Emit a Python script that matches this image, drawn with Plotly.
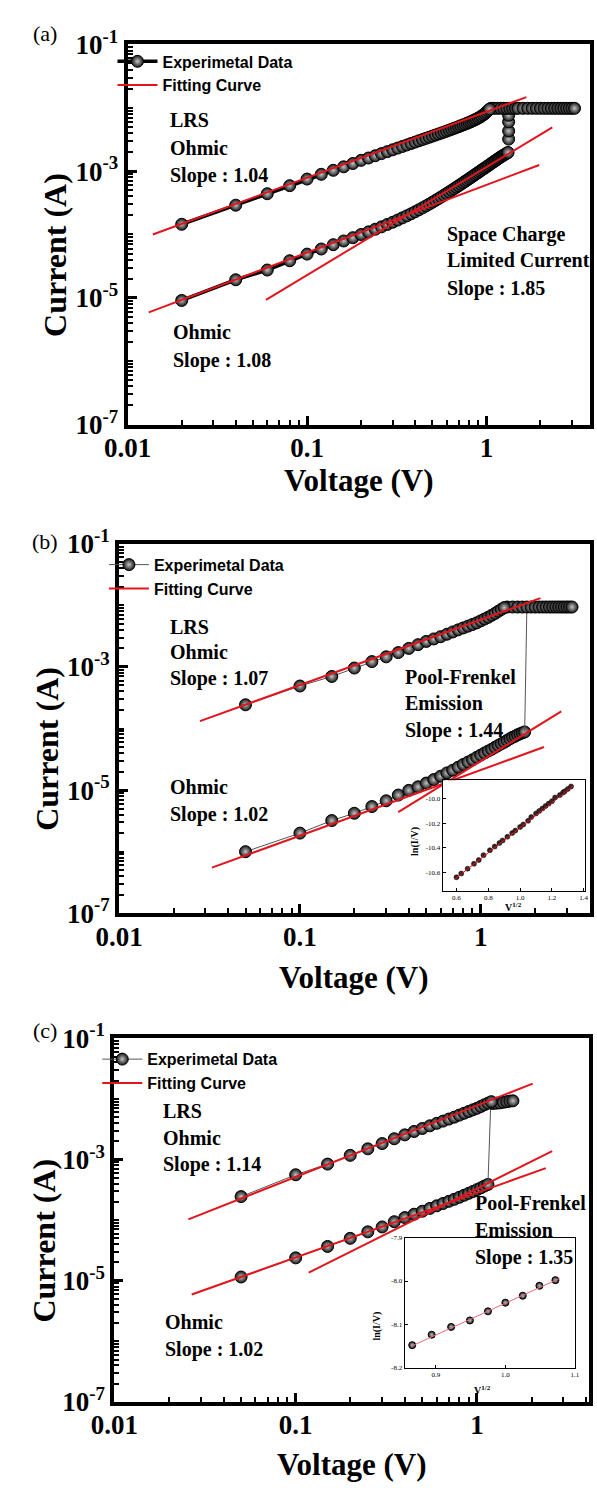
import plotly.graph_objects as go

W, H = 597, 1497
def px(x): return x / W
def py(y): return 1 - y / H

# ---------------- data: panel (a) ----------------
a_v_hrs = [0.02, 0.04, 0.06, 0.08, 0.10, 0.12, 0.14, 0.16, 0.18, 0.20,
           0.22, 0.24, 0.26, 0.28, 0.30, 0.32, 0.34, 0.36, 0.38, 0.40,
           0.42, 0.44, 0.46, 0.48, 0.50, 0.52, 0.54, 0.56, 0.58, 0.60,
           0.62, 0.64, 0.66, 0.68, 0.70, 0.72, 0.74, 0.76, 0.78, 0.80,
           0.82, 0.84, 0.86, 0.88, 0.90, 0.92, 0.94, 0.96, 0.98, 1.00,
           1.02, 1.04, 1.06, 1.08, 1.10, 1.12, 1.14, 1.16, 1.18, 1.20,
           1.22, 1.24, 1.26, 1.28, 1.30, 1.32]
a_i_hrs = [9.1e-6, 1.93e-5, 2.75e-5, 3.85e-5, 4.9e-5, 5.9e-5, 6.9e-5, 7.9e-5, 8.9e-5, 1.0e-4,
           1.1e-4, 1.21e-4, 1.32e-4, 1.44e-4, 1.56e-4, 1.69e-4, 1.83e-4, 1.97e-4, 2.12e-4, 2.28e-4,
           2.45e-4, 2.63e-4, 2.82e-4, 3.02e-4, 3.23e-4, 3.45e-4, 3.68e-4, 3.92e-4, 4.17e-4, 4.43e-4,
           4.7e-4, 4.98e-4, 5.27e-4, 5.57e-4, 5.88e-4, 6.2e-4, 6.53e-4, 6.87e-4, 7.22e-4, 7.58e-4,
           7.95e-4, 8.33e-4, 8.72e-4, 9.12e-4, 9.53e-4, 9.95e-4, 1.04e-3, 1.08e-3, 1.12e-3, 1.17e-3,
           1.21e-3, 1.26e-3, 1.31e-3, 1.36e-3, 1.41e-3, 1.46e-3, 1.51e-3, 1.56e-3, 1.62e-3, 1.67e-3,
           1.72e-3, 1.77e-3, 1.82e-3, 1.87e-3, 1.92e-3, 1.97e-3]
a_v_set = [1.33, 1.33, 1.33, 1.33]
a_i_set = [3.2e-3, 4.3e-3, 6.0e-3, 7.6e-3]
a_v_cc = [1.06, 1.1, 1.15, 1.2, 1.25, 1.3, 1.35, 1.4, 1.45, 1.5, 1.6, 1.7, 1.8,
          1.9, 2.0, 2.1, 2.2, 2.3, 2.4, 2.5, 2.6, 2.7, 2.8, 2.9, 3.0, 3.1]
a_i_cc = [0.0098, 0.0098, 0.0098, 0.0098, 0.0098, 0.0098, 0.0098, 0.0098, 0.0098,
          0.0098, 0.0098, 0.0098, 0.0098, 0.0098, 0.0098, 0.0098, 0.0098, 0.0098,
          0.0098, 0.0098, 0.0098, 0.0098, 0.0098, 0.0098, 0.0098, 0.0098]
a_v_lrs = [0.02, 0.04, 0.06, 0.08, 0.10, 0.12, 0.14, 0.16, 0.18, 0.20,
           0.22, 0.24, 0.26, 0.28, 0.30, 0.32, 0.34, 0.36, 0.38, 0.40,
           0.42, 0.44, 0.46, 0.48, 0.50, 0.52, 0.54, 0.56, 0.58, 0.60,
           0.62, 0.64, 0.66, 0.68, 0.70, 0.72, 0.74, 0.76, 0.78, 0.80,
           0.82, 0.84, 0.86, 0.88, 0.90, 0.92, 0.94, 0.96, 0.98, 1.00,
           1.02, 1.04]
a_i_lrs = [1.45e-4, 2.9e-4, 4.4e-4, 5.9e-4, 7.5e-4, 8.9e-4, 1.03e-3, 1.17e-3, 1.32e-3, 1.48e-3,
           1.61e-3, 1.75e-3, 1.89e-3, 2.03e-3, 2.17e-3, 2.31e-3, 2.45e-3, 2.59e-3, 2.73e-3, 2.87e-3,
           3.01e-3, 3.15e-3, 3.29e-3, 3.43e-3, 3.57e-3, 3.71e-3, 3.85e-3, 3.99e-3, 4.13e-3, 4.28e-3,
           4.43e-3, 4.58e-3, 4.73e-3, 4.88e-3, 5.04e-3, 5.2e-3, 5.36e-3, 5.52e-3, 5.69e-3, 5.86e-3,
           6.04e-3, 6.23e-3, 6.43e-3, 6.64e-3, 6.87e-3, 7.12e-3, 7.4e-3, 7.72e-3, 8.08e-3, 8.5e-3,
           9.0e-3, 9.5e-3]
a_fit_lrs_v = [0.0138, 1.67];  a_fit_lrs_i = [1.0e-4, 1.47e-2]
a_fit_ohm_v = [0.0131, 1.97];  a_fit_ohm_i = [5.9e-6, 1.25e-3]
a_fit_sclc_v = [0.059, 2.33];  a_fit_sclc_i = [9.3e-6, 4.9e-3]

# ---------------- data: panel (b) ----------------
b_v_hrs = [0.05, 0.10, 0.15, 0.20, 0.25, 0.30, 0.35, 0.40, 0.45, 0.50,
           0.55, 0.60, 0.65, 0.70, 0.75, 0.80, 0.85, 0.90, 0.95, 1.00,
           1.05, 1.10, 1.15, 1.20, 1.25, 1.30, 1.35, 1.40, 1.45, 1.50,
           1.55, 1.60, 1.65, 1.70, 1.75]
b_i_hrs = [1.0e-6, 2.0e-6, 3.2e-6, 4.2e-6, 5.4e-6, 6.7e-6, 8.3e-6, 9.9e-6, 1.13e-5, 1.3e-5,
           1.48e-5, 1.68e-5, 1.9e-5, 2.1e-5, 2.35e-5, 2.6e-5, 2.85e-5, 3.1e-5, 3.4e-5, 3.7e-5,
           4.0e-5, 4.3e-5, 4.6e-5, 4.95e-5, 5.3e-5, 5.65e-5, 6.0e-5, 6.4e-5, 6.8e-5, 7.2e-5,
           7.5e-5, 7.9e-5, 8.2e-5, 8.5e-5, 8.8e-5]
b_v_jump = [1.75, 1.80]
b_i_jump = [8.8e-5, 9.4e-3]
b_v_cc = [1.4, 1.5, 1.6, 1.7, 1.8, 1.9, 2.0, 2.1, 2.2, 2.3, 2.4, 2.5, 2.6, 2.7,
          2.8, 2.9, 3.0, 3.1, 3.2]
b_i_cc = [0.0094, 0.0094, 0.0094, 0.0094, 0.0094, 0.0094, 0.0094, 0.0094, 0.0094, 0.0094,
          0.0094, 0.0094, 0.0094, 0.0094, 0.0094, 0.0094, 0.0094, 0.0094, 0.0094]
b_v_lrs = [0.05, 0.10, 0.15, 0.20, 0.25, 0.30, 0.35, 0.40, 0.45, 0.50,
           0.55, 0.60, 0.65, 0.70, 0.75, 0.80, 0.85, 0.90, 0.95, 1.00,
           1.05, 1.10, 1.15, 1.20, 1.25, 1.30, 1.35]
b_i_lrs = [2.43e-4, 4.9e-4, 7.0e-4, 9.6e-4, 1.22e-3, 1.46e-3, 1.71e-3, 2.0e-3, 2.3e-3, 2.6e-3,
           2.85e-3, 3.1e-3, 3.4e-3, 3.7e-3, 4.0e-3, 4.3e-3, 4.6e-3, 4.9e-3, 5.2e-3, 5.6e-3,
           6.0e-3, 6.4e-3, 6.9e-3, 7.4e-3, 8.0e-3, 8.6e-3, 9.2e-3]
b_fit_lrs_v = [0.028, 2.14];  b_fit_lrs_i = [1.32e-4, 1.31e-2]
b_fit_ohm_v = [0.0326, 2.24]; b_fit_ohm_i = [5.5e-7, 5.0e-5]
b_fit_pf_v = [0.35, 2.79];    b_fit_pf_i = [4.4e-6, 1.9e-4]
# inset (b): ln(I/V) vs V^1/2
bi_x = [0.60, 0.63, 0.67, 0.71, 0.74, 0.77, 0.81, 0.84, 0.87, 0.89,
        0.92, 0.95, 0.97, 1.00, 1.02, 1.05, 1.07, 1.10, 1.12, 1.14,
        1.16, 1.18, 1.20, 1.22, 1.25, 1.27, 1.28, 1.30, 1.32]
bi_y = [-10.64, -10.61, -10.57, -10.53, -10.50, -10.46, -10.42, -10.39, -10.36, -10.34,
        -10.31, -10.28, -10.26, -10.23, -10.21, -10.18, -10.15, -10.12, -10.10, -10.08,
        -10.06, -10.04, -10.02, -9.99, -9.97, -9.95, -9.94, -9.92, -9.90]
bi_fit_x = [0.59, 1.335]
bi_fit_y = [-10.655, -9.895]
bi_xticks = [0.6, 0.8, 1.0, 1.2, 1.4]
bi_yticks = [-10.0, -10.2, -10.4, -10.6]

# ---------------- data: panel (c) ----------------
c_v_hrs = [0.05, 0.10, 0.15, 0.20, 0.25, 0.30, 0.35, 0.40, 0.45, 0.50,
           0.55, 0.60, 0.65, 0.70, 0.75, 0.80, 0.85, 0.90, 0.95, 1.00,
           1.05, 1.10, 1.15]
c_i_hrs = [1.15e-5, 2.38e-5, 3.67e-5, 5.0e-5, 6.4e-5, 7.7e-5, 9.4e-5, 1.1e-4, 1.25e-4, 1.4e-4,
           1.56e-4, 1.72e-4, 1.88e-4, 2.04e-4, 2.2e-4, 2.38e-4, 2.57e-4, 2.76e-4, 2.96e-4, 3.18e-4,
           3.4e-4, 3.65e-4, 3.87e-4]
c_v_jump = [1.15, 1.19]
c_i_jump = [3.87e-4, 7.2e-3]
c_v_cc = [1.22, 1.28, 1.34, 1.40, 1.46, 1.52, 1.58]
c_i_cc = [8.4e-3, 8.5e-3, 8.6e-3, 8.8e-3, 9.0e-3, 9.2e-3, 9.3e-3]
c_v_lrs = [0.05, 0.10, 0.15, 0.20, 0.25, 0.30, 0.35, 0.40, 0.45, 0.50,
           0.55, 0.60, 0.65, 0.70, 0.75, 0.80, 0.85, 0.90, 0.95, 1.00,
           1.05, 1.10, 1.15, 1.20]
c_i_lrs = [2.44e-4, 5.6e-4, 8.4e-4, 1.17e-3, 1.5e-3, 1.83e-3, 2.2e-3, 2.55e-3, 2.9e-3, 3.25e-3,
           3.6e-3, 3.95e-3, 4.3e-3, 4.65e-3, 5.0e-3, 5.4e-3, 5.8e-3, 6.2e-3, 6.6e-3, 7.0e-3,
           7.5e-3, 8.0e-3, 8.5e-3, 9.0e-3]
c_fit_lrs_v = [0.0256, 2.03]; c_fit_lrs_i = [1.03e-4, 1.79e-2]
c_fit_ohm_v = [0.0267, 2.4];  c_fit_ohm_i = [5.9e-6, 7.2e-4]
c_fit_pf_v = [0.118, 2.6];    c_fit_pf_i = [1.36e-5, 1.38e-3]
# inset (c)
ci_x = [0.866, 0.894, 0.922, 0.949, 0.975, 1.0, 1.025, 1.049, 1.072]
ci_y = [-8.148, -8.124, -8.106, -8.091, -8.070, -8.050, -8.034, -8.011, -7.998]
ci_fit_x = [0.864, 1.078]
ci_fit_y = [-8.151, -7.994]
ci_xticks = [0.9, 1.0, 1.1]
ci_yticks = [-7.9, -8.0, -8.1, -8.2]

# main axis ticks
x_tickvals = [0.01, 0.1, 1]
x_ticktext = ["0.01", "0.1", "1"]
y_tickvals = [1e-1, 1e-3, 1e-5, 1e-7]
y_ticktext = ["10<sup>-1</sup>", "10<sup>-3</sup>", "10<sup>-5</sup>", "10<sup>-7</sup>"]

RED = '#e3141c'
SERIF = 'Liberation Serif'
SANS = 'Liberation Sans'

def sphere(size):
    return dict(size=size, color='#161616', line=dict(color='black', width=1),
                gradient=dict(type='radial', color='#c4c4c4'))

fig = go.Figure()

def add_panel(ax, ay, leg, segs, fits, linecolor, linewidth, msize):
    first = True
    for (v, i, mode) in segs:
        fig.add_trace(go.Scatter(
            x=v, y=i, mode=mode, xaxis=ax, yaxis=ay,
            line=dict(color=linecolor, width=linewidth),
            marker=sphere(msize), name='Experimetal Data',
            showlegend=first and mode == 'lines+markers', legend=leg))
        if mode == 'lines+markers':
            first = False
    firstfit = True
    for (v, i) in fits:
        fig.add_trace(go.Scatter(
            x=v, y=i, mode='lines', xaxis=ax, yaxis=ay,
            line=dict(color=RED, width=2), name='Fitting Curve',
            showlegend=firstfit, legend=leg))
        firstfit = False

add_panel('x', 'y', 'legend',
          [(a_v_hrs, a_i_hrs, 'lines+markers'), (a_v_set, a_i_set, 'lines+markers'),
           (a_v_cc, a_i_cc, 'lines+markers'), (a_v_lrs, a_i_lrs, 'lines+markers')],
          [(a_fit_lrs_v, a_fit_lrs_i), (a_fit_ohm_v, a_fit_ohm_i), (a_fit_sclc_v, a_fit_sclc_i)],
          'black', 3.5, 12)
add_panel('x2', 'y2', 'legend2',
          [(b_v_hrs, b_i_hrs, 'lines+markers'), (b_v_jump, b_i_jump, 'lines'),
           (b_v_cc, b_i_cc, 'lines+markers'), (b_v_lrs, b_i_lrs, 'lines+markers')],
          [(b_fit_lrs_v, b_fit_lrs_i), (b_fit_ohm_v, b_fit_ohm_i), (b_fit_pf_v, b_fit_pf_i)],
          '#555555', 1, 12)
add_panel('x3', 'y3', 'legend3',
          [(c_v_hrs, c_i_hrs, 'lines+markers'), (c_v_jump, c_i_jump, 'lines'),
           (c_v_cc, c_i_cc, 'lines+markers'), (c_v_lrs, c_i_lrs, 'lines+markers')],
          [(c_fit_lrs_v, c_fit_lrs_i), (c_fit_ohm_v, c_fit_ohm_i), (c_fit_pf_v, c_fit_pf_i)],
          '#555555', 1, 12)

# insets
fig.add_trace(go.Scatter(x=bi_x, y=bi_y, mode='markers', xaxis='x4', yaxis='y4', showlegend=False,
                         marker=dict(size=5, color='#3b2424', line=dict(color='black', width=0.5))))
fig.add_trace(go.Scatter(x=bi_fit_x, y=bi_fit_y, mode='lines', xaxis='x4', yaxis='y4', showlegend=False,
                         line=dict(color=RED, width=1)))
fig.add_trace(go.Scatter(x=ci_x, y=ci_y, mode='markers', xaxis='x5', yaxis='y5', showlegend=False,
                         marker=sphere(7)))
fig.add_trace(go.Scatter(x=ci_fit_x, y=ci_fit_y, mode='lines', xaxis='x5', yaxis='y5', showlegend=False,
                         line=dict(color='#e06a78', width=1)))

MINOR = dict(ticks='inside', ticklen=5, tickwidth=2, tickcolor='black', dtick='D1')

def main_x(domain, rng, anchor):
    return dict(type='log', domain=domain, range=rng, anchor=anchor,
                showline=True, linecolor='black', linewidth=4, mirror=True,
                ticks='inside', ticklen=9, tickwidth=3, tickcolor='black',
                tickmode='array', tickvals=x_tickvals, ticktext=x_ticktext,
                ticklabelstandoff=-4,
                tickfont=dict(family=SERIF, size=27, color='black', weight='bold'),
                minor=MINOR, showgrid=False, zeroline=False)

def main_y(domain, anchor):
    return dict(type='log', domain=domain, range=[-7, -1], anchor=anchor,
                showline=True, linecolor='black', linewidth=4, mirror=True,
                ticks='inside', ticklen=9, tickwidth=3, tickcolor='black',
                tickmode='array', tickvals=y_tickvals, ticktext=y_ticktext,
                tickfont=dict(family=SERIF, size=27, color='black', weight='bold'),
                minor=dict(ticks='inside', ticklen=5, tickwidth=2, tickcolor='black',
                           dtick='D1'),
                showgrid=False, zeroline=False)

def inset_ax(domain, rng, anchor, tickvals, fmt):
    return dict(domain=domain, range=rng, anchor=anchor, showline=True, linecolor='black',
                linewidth=1, mirror=True, ticks='inside', ticklen=3, tickcolor='black',
                tickmode='array', tickvals=tickvals, ticktext=[fmt.format(t) for t in tickvals],
                tickfont=dict(family=SERIF, size=7, color='black'),
                showgrid=False, zeroline=False)

def legend_at(x, y):
    return dict(x=px(x), y=py(y), xanchor='left', yanchor='top', bgcolor='rgba(0,0,0,0)',
                font=dict(family=SANS, size=16, color='black', weight='bold'),
                itemwidth=40, tracegroupgap=0, borderwidth=0)

fig.update_layout(
    width=W, height=H, margin=dict(l=0, r=0, t=0, b=0),
    paper_bgcolor='white', plot_bgcolor='white',
    xaxis=main_x([px(109), px(595)], [-2, 0.578], 'y'),
    yaxis=main_y([py(415), py(26)], 'x'),
    xaxis2=main_x([px(100), px(595)], [-2, 0.605], 'y2'),
    yaxis2=main_y([py(915), py(537)], 'x2'),
    xaxis3=main_x([px(95), px(594)], [-2, 0.619], 'y3'),
    yaxis3=main_y([py(1415), py(1043)], 'x3'),
    xaxis4=inset_ax([px(440), px(590)], [0.513, 1.41], 'y4', bi_xticks, '{:.1f}'),
    yaxis4=inset_ax([py(892), py(779)], [-10.75, -9.85], 'x4', bi_yticks, '{:.1f}'),
    xaxis5=inset_ax([px(400), px(579)], [0.855, 1.1], 'y5', ci_xticks, '{:.1f}'),
    yaxis5=inset_ax([py(1380), py(1247)], [-8.2, -7.9], 'x5', ci_yticks, '{:.1f}'),
    legend=legend_at(93, 26),
    legend2=legend_at(84, 541),
    legend3=legend_at(77, 1047),
)

ann = []
def txt(s, x, y, size=20, family=SERIF, bold=True, angle=0, xanchor='left'):
    ann.append(dict(text=s, x=px(x), y=py(y), xref='paper', yref='paper', showarrow=False,
                    xanchor=xanchor, yanchor='middle', textangle=angle,
                    font=dict(family=family, size=size, color='black',
                              weight='bold' if bold else 'normal')))

# panel labels
for lab, y in [('(a)', 15), ('(b)', 535), ('(c)', 1035)]:
    txt(lab, 22, y, size=22, bold=False, xanchor='center')
# axis titles
for x, y in [(352, 472), (347, 981), (345, 1479)]:
    txt('Voltage (V)', x, y, size=31, xanchor='center')
for x, y in [(32, 241), (24, 747), (21, 1250)]:
    txt('Current (A)', x, y, size=32, angle=-90, xanchor='center')
# panel (a) notes
for s, y in [('LRS', 103), ('Ohmic', 132), ('Slope : 1.04', 160)]:
    txt(s, 151, y)
for s, y in [('Space Charge', 220), ('Limited Current', 247), ('Slope : 1.85', 276)]:
    txt(s, 442, y)
for s, y in [('Ohmic', 320), ('Slope : 1.08', 349)]:
    txt(s, 155, y)
# panel (b) notes
for s, y in [('LRS', 622), ('Ohmic', 648), ('Slope : 1.07', 675)]:
    txt(s, 151, y)
for s, y in [('Pool-Frenkel', 673), ('Emission', 700), ('Slope : 1.44', 728)]:
    txt(s, 398, y)
for s, y in [('Ohmic', 786), ('Slope : 1.02', 814)]:
    txt(s, 151, y)
# panel (c) notes
for s, y in [('LRS', 1117), ('Ohmic', 1145), ('Slope : 1.14', 1172)]:
    txt(s, 144, y)
for s, y in [('Pool-Frenkel', 1212), ('Emission', 1239), ('Slope : 1.35', 1267)]:
    txt(s, 472, y)
for s, y in [('Ohmic', 1333), ('Slope : 1.02', 1361)]:
    txt(s, 146, y)
# inset titles
txt('ln(I/V)', 411, 842, size=10, angle=-90, xanchor='center')
txt('V<sup>1/2</sup>', 515, 909, size=10, xanchor='center')
txt('ln(I/V)', 371, 1337, size=10, angle=-90, xanchor='center')
txt('V<sup>1/2</sup>', 482, 1403, size=10, xanchor='center')

fig.update_layout(annotations=ann)
fig.write_html("out.html")
